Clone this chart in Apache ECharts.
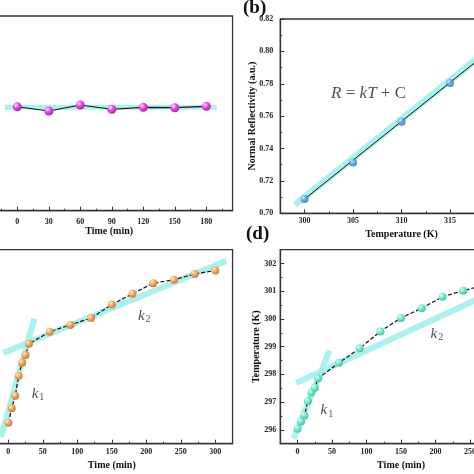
<!DOCTYPE html>
<html>
<head>
<meta charset="utf-8">
<script src="https://cdn.jsdelivr.net/npm/echarts@6/dist/echarts.min.js"></script>
<style>
html,body{margin:0;padding:0;background:#fff;}
#c{width:474px;height:474px;}
</style>
</head>
<body>
<div id="c"></div>
<script>
// ---------------- data ----------------
// (a) reflectivity vs time (y axis hidden / off-canvas)
const timeA = [0, 30, 60, 90, 120, 150, 180];
const reflA = [0.7534, 0.7512, 0.7543, 0.7521, 0.7531, 0.7529, 0.7536];
const bandA_t = [-12, 190];
const bandA_v = [0.7531, 0.7531];

// (b) normal reflectivity vs temperature
const tempB = [300, 305, 310, 315];
const reflB = [0.7088, 0.7314, 0.7565, 0.7804];
const fitB_T = [300, 323];
const fitB_R = [0.7088, 0.8192];
const bandB_T = [299, 323];
const bandB_R = [0.7052, 0.8204];

// (c) & (d) time series
const timeCD = [0, 5, 10, 15, 20, 25, 30, 60, 90, 120, 150, 180, 210, 240, 270, 300];
const reflC = [0.7043, 0.7073, 0.7099, 0.7140, 0.7167, 0.7183, 0.7206, 0.7231, 0.7245, 0.7259, 0.7287, 0.7309, 0.7331, 0.7338, 0.7350, 0.7357];
const tempD = [296.04, 296.30, 296.52, 297.04, 297.35, 297.52, 297.86, 298.42, 298.94, 299.55, 300.04, 300.39, 300.80, 301.02, 301.22, 301.35];

// fitted slope bands
const k1C_t = [-10.6, 37.7], k1C_v = [0.7014, 0.7258];
const k2C_t = [-7.2, 316], k2C_v = [0.7187, 0.7377];
const k1D_t = [-5.8, 46.4], k1D_v = [295.68, 298.86];
const k2D_t = [-2, 325], k2D_v = [297.69, 301.45];

// annotation anchors
const annoC = [[43, 0.7103, '1'], [197, 0.7263, '2']];
const annoD = [[42.5, 296.70, '1'], [202, 299.45, '2']];
const annoB = [[306.6, 0.774]];

// tick values
const xMajorA = [0, 30, 60, 90, 120, 150, 180];
const xMinorA = [-15, 15, 45, 75, 105, 135, 165, 195];
const xMajorB = [300, 305, 310, 315, 320];
const xMinorB = [302.5, 307.5, 312.5, 317.5];
const yMajorB = [0.70, 0.72, 0.74, 0.76, 0.78, 0.80, 0.82];
const yMinorB = [0.71, 0.73, 0.75, 0.77, 0.79, 0.81];
const xMajorCD = [0, 50, 100, 150, 200, 250, 300];
const xMinorCD = [25, 75, 125, 175, 225, 275];
const yMajorD = [296, 297, 298, 299, 300, 301, 302];
const yMinorD = [296.5, 297.5, 298.5, 299.5, 300.5, 301.5];

// ---------------- styling helpers ----------------
const FF = '"Liberation Serif","Times New Roman",serif';
const AX = '#333';
const BAND = '#a6f1ee';

function zip(a, b) { return a.map((v, i) => [v, b[i]]); }
function sphere(hi, mid, edge) {
  return {type: 'radial', x: 0.35, y: 0.32, r: 0.75,
    colorStops: [{offset: 0, color: hi}, {offset: 0.45, color: mid}, {offset: 1, color: edge}]};
}
const gridRects = [
  {left: -14.2, top: 16, width: 246.75, height: 194.7},   // a
  {left: 280.3, top: 19, width: 242.5, height: 194.3},     // b
  {left: -8.95, top: 249.7, width: 241.5, height: 194},    // c
  {left: 280.3, top: 249.7, width: 241.5, height: 194}     // d
];
const ranges = [
  {x: [-30, 205], y: [0.70, 0.80]},
  {x: [297.5, 322.5], y: [0.70, 0.82]},
  {x: [-25, 325], y: [0.700, 0.740]},
  {x: [-25, 325], y: [295.5, 302.5]}
];

const grids = [];
gridRects.forEach(r => grids.push(Object.assign({show: true, borderColor: AX, borderWidth: 1.3, backgroundColor: 'transparent', outerBoundsMode: 'none', containLabel: false}, r)));
gridRects.forEach(r => grids.push(Object.assign({show: false, outerBoundsMode: 'none', containLabel: false}, r)));

function xMain(gi, major, fmt, margin, gap, name) {
  return {type: 'value', gridIndex: gi, min: ranges[gi].x[0], max: ranges[gi].x[1], position: 'bottom',
    axisLine: {show: true, onZero: false, lineStyle: {color: AX, width: 1.3}},
    axisTick: {show: true, inside: true, length: 4, customValues: major, lineStyle: {color: AX, width: 1}},
    axisLabel: {show: true, customValues: major, margin: margin, fontFamily: FF, fontWeight: 'bold', fontSize: 8, color: '#222', formatter: fmt},
    splitLine: {show: false}, minorTick: {show: false},
    name: name, nameLocation: 'middle', nameGap: gap, nameMoveOverlap: false,
    nameTextStyle: {fontFamily: FF, fontWeight: 'bold', fontSize: 10, color: '#111'}};
}
function yMain(gi, major, fmt, margin, gap, name) {
  return {type: 'value', gridIndex: gi, min: ranges[gi].y[0], max: ranges[gi].y[1], position: 'left',
    axisLine: {show: true, onZero: false, lineStyle: {color: AX, width: 1.3}},
    axisTick: {show: true, inside: true, length: 4, customValues: major, lineStyle: {color: AX, width: 1}},
    axisLabel: {show: true, customValues: major, margin: margin, fontFamily: FF, fontWeight: 'bold', fontSize: 8, color: '#222', formatter: fmt},
    splitLine: {show: false}, minorTick: {show: false},
    name: name, nameLocation: 'middle', nameGap: gap, nameRotate: 90, nameMoveOverlap: false,
    nameTextStyle: {fontFamily: FF, fontWeight: 'bold', fontSize: 10, color: '#111'}};
}
function yHidden(gi) {
  return {type: 'value', gridIndex: gi, min: ranges[gi].y[0], max: ranges[gi].y[1],
    axisLine: {show: false}, axisTick: {show: false}, axisLabel: {show: false}, splitLine: {show: false}};
}
function xMinor(gi, minor) {
  return {type: 'value', gridIndex: gi, min: ranges[gi - 4].x[0], max: ranges[gi - 4].x[1], position: 'bottom',
    axisLine: {show: false, onZero: false},
    axisTick: {show: true, inside: true, length: 2, customValues: minor, lineStyle: {color: AX, width: 1}},
    axisLabel: {show: false}, splitLine: {show: false}};
}
function yMinor(gi, minor) {
  const ax = {type: 'value', gridIndex: gi, min: ranges[gi - 4].y[0], max: ranges[gi - 4].y[1], position: 'left',
    axisLine: {show: false, onZero: false}, axisLabel: {show: false}, splitLine: {show: false},
    axisTick: {show: false}};
  if (minor) ax.axisTick = {show: true, inside: true, length: 2, customValues: minor, lineStyle: {color: AX, width: 1}};
  return ax;
}

const intFmt = v => String(Math.round(v));
const xAxes = [
  xMain(0, xMajorA, intFmt, 7, 16, 'Time (min)'),
  xMain(1, xMajorB, intFmt, 4, 16, 'Temperature (K)'),
  xMain(2, xMajorCD, intFmt, 4, 17, 'Time (min)'),
  xMain(3, xMajorCD, intFmt, 4, 17, 'Time (min)'),
  xMinor(4, xMinorA), xMinor(5, xMinorB), xMinor(6, xMinorCD), xMinor(7, xMinorCD)
];
const yAxes = [
  yHidden(0),
  yMain(1, yMajorB, v => v.toFixed(2), 7, 23, 'Normal Reflectivity (a.u.)'),
  yHidden(2),
  yMain(3, yMajorD, intFmt, 4, 19, 'Temperature (K)'),
  yMinor(4, null), yMinor(5, yMinorB), yMinor(6, null), yMinor(7, yMinorD)
];

function band(gi, t, v, w) {
  return {type: 'line', xAxisIndex: gi, yAxisIndex: gi, data: zip(t, v), symbol: 'none', silent: true,
    lineStyle: {color: BAND, width: w, opacity: 0.95, cap: 'butt'}, z: 1, animation: false};
}
function dataLine(gi, t, v, colors, size, dash) {
  return {type: 'line', xAxisIndex: gi, yAxisIndex: gi, data: zip(t, v), symbol: 'circle', symbolSize: size,
    showSymbol: true, lineStyle: {color: '#111', width: 1.2, type: dash ? [4, 2] : 'solid'},
    itemStyle: {color: sphere(colors[0], colors[1], colors[2]), borderWidth: 0}, z: 3, animation: false};
}
const kRich = {
  k: {fontFamily: FF, fontStyle: 'italic', fontSize: 15, color: '#222'},
  s: {fontFamily: FF, fontSize: 10, color: '#222', padding: [7, 0, 0, 1]}
};
function kLabels(gi, arr) {
  return {type: 'scatter', xAxisIndex: gi, yAxisIndex: gi, symbolSize: 0, silent: true, z: 5, animation: false,
    data: arr.map(a => ({value: [a[0], a[1]], sub: a[2]})),
    label: {show: true, position: 'inside', formatter: p => '{k|k}{s|' + p.data.sub + '}', rich: kRich}};
}

const series = [
  band(0, bandA_t, bandA_v, 5),
  dataLine(0, timeA, reflA, ['#ffe0ff', '#e44ae4', '#a01ea0'], 9, false),

  band(1, bandB_T, bandB_R, 7),
  {type: 'line', xAxisIndex: 1, yAxisIndex: 1, data: zip(fitB_T, fitB_R), symbol: 'none',
    lineStyle: {color: '#111', width: 1}, z: 2, animation: false},
  {type: 'scatter', xAxisIndex: 1, yAxisIndex: 1, data: zip(tempB, reflB), symbolSize: 8,
    itemStyle: {color: sphere('#e6f2ff', '#4f9ee8', '#1d5fb0')}, z: 3, animation: false},
  {type: 'scatter', xAxisIndex: 1, yAxisIndex: 1, symbolSize: 0, silent: true, z: 5, animation: false,
    data: annoB,
    label: {show: true, position: 'inside', formatter: () => '{i|R}{n| = }{i|kT}{n| + C}',
      rich: {i: {fontFamily: FF, fontStyle: 'italic', fontSize: 17, color: '#222'},
             n: {fontFamily: FF, fontSize: 17, color: '#222'}}}},

  band(2, k1C_t, k1C_v, 6),
  band(2, k2C_t, k2C_v, 6),
  dataLine(2, timeCD, reflC, ['#fff0dc', '#f2a85e', '#c9772c'], 8, true),
  kLabels(2, annoC),

  band(3, k1D_t, k1D_v, 6),
  band(3, k2D_t, k2D_v, 6),
  dataLine(3, timeCD, tempD, ['#eafff8', '#74e8cc', '#3cc2a2'], 8, true),
  kLabels(3, annoD),

  // invisible anchors for overlay grids
  {type: 'line', xAxisIndex: 4, yAxisIndex: 4, data: [], silent: true},
  {type: 'line', xAxisIndex: 5, yAxisIndex: 5, data: [], silent: true},
  {type: 'line', xAxisIndex: 6, yAxisIndex: 6, data: [], silent: true},
  {type: 'line', xAxisIndex: 7, yAxisIndex: 7, data: [], silent: true}
];

const chart = echarts.init(document.getElementById('c'), null, {renderer: 'canvas', width: 474, height: 474});
chart.setOption({
  backgroundColor: '#fff',
  animation: false,
  grid: grids,
  xAxis: xAxes,
  yAxis: yAxes,
  series: series,
  graphic: [
    {type: 'text', left: 243, top: -1, style: {text: '(b)', font: 'bold 19px ' + FF, fill: '#111'}},
    {type: 'text', left: 246, top: 225, style: {text: '(d)', font: 'bold 19px ' + FF, fill: '#111'}}
  ]
});
</script>
</body>
</html>
